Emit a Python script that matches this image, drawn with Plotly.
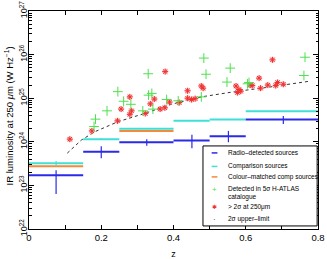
import plotly.graph_objects as go

# ---- data (log10 luminosity in W/Hz) ----
bin_lo = [0.0, 0.15, 0.25, 0.40, 0.50, 0.60]
bin_hi = [0.15, 0.25, 0.40, 0.50, 0.60, 0.80]
radio_logL = [23.23, 23.77, 23.99, 24.03, 24.13, 24.51]
radio_err_z = [0.075, 0.200, 0.326, 0.451, 0.552, 0.704]
radio_err_lo = [22.80, 23.62, 23.91, 23.85, 23.99, 24.41]
radio_err_hi = [23.35, 23.90, 24.06, 24.16, 24.25, 24.59]

comp_logL = [23.51, 24.06, 24.30, 24.48, 24.51, 24.70]
comp_err_z = [0.075, 0.200]
comp_err_lo = [23.45, 24.04]
comp_err_hi = [23.56, 24.08]

colour_lo = [0.0, 0.25]
colour_hi = [0.15, 0.40]
colour_logL = [23.44, 24.25]

det_z = [0.180, 0.184, 0.216, 0.246, 0.262, 0.282, 0.330, 0.331, 0.340, 0.343,
         0.315, 0.381, 0.413, 0.477, 0.484, 0.490, 0.557, 0.548, 0.609, 0.605,
         0.764, 0.761]
det_logL = [24.35, 24.52, 24.71, 25.15, 24.93, 24.86, 25.56, 25.07, 25.11, 24.75,
            24.71, 24.97, 24.94, 25.03, 25.92, 25.55, 25.69, 25.37, 25.36, 25.33,
            25.94, 25.52]

sig_z = [0.113, 0.174, 0.245, 0.255, 0.279, 0.284, 0.279, 0.347, 0.336, 0.322,
         0.363, 0.376, 0.377, 0.389, 0.416, 0.439, 0.439, 0.450, 0.460, 0.477,
         0.482, 0.573, 0.581, 0.586, 0.577, 0.612, 0.618, 0.637, 0.641, 0.661,
         0.674, 0.688, 0.683, 0.704]
sig_logL = [24.06, 24.25, 24.48, 24.75, 25.03, 24.71, 24.63, 24.98, 24.87, 24.65,
            24.75, 24.78, 25.61, 24.91, 24.90, 25.17, 25.00, 24.97, 24.99, 25.28,
            25.23, 25.28, 25.20, 25.16, 25.13, 25.30, 25.29, 25.46, 25.23, 25.30,
            25.88, 25.36, 25.29, 25.32]

lim_z = [0.106, 0.145, 0.182, 0.246, 0.320, 0.394, 0.477, 0.569, 0.661, 0.777]
lim_logL = [23.74, 24.04, 24.23, 24.46, 24.65, 24.86, 25.03, 25.15, 25.25, 25.39]

y_tick_exp = [22, 23, 24, 25, 26, 27]
x_tick_vals = [0, 0.2, 0.4, 0.6, 0.8]
x_tick_text = ["0", "0.2", "0.4", "0.6", "0.8"]

BLUE = "#2a2ae8"
CYAN = "#3fe0d8"
ORANGE = "#f58a3a"
GREEN = "#4ee04e"
RED = "#f03030"


def p(v):
    return 10.0 ** v


def segs(lo, hi, vals):
    xs, ys = [], []
    for a, b, v in zip(lo, hi, vals):
        xs += [a, b, None]
        ys += [p(v), p(v), None]
    return xs, ys


def vsegs(zs, lo, hi):
    xs, ys = [], []
    for z, a, b in zip(zs, lo, hi):
        xs += [z, z, None]
        ys += [p(a), p(b), None]
    return xs, ys


fig = go.Figure()

# horizontal bin bars
for lo, hi, vals, col in [(bin_lo, bin_hi, comp_logL, CYAN),
                          (colour_lo, colour_hi, colour_logL, ORANGE),
                          (bin_lo, bin_hi, radio_logL, BLUE)]:
    xs, ys = segs(lo, hi, vals)
    fig.add_trace(go.Scatter(x=xs, y=ys, mode="lines",
                             line=dict(color=col, width=2), showlegend=False))

xs, ys = vsegs(comp_err_z, comp_err_lo, comp_err_hi)
fig.add_trace(go.Scatter(x=xs, y=ys, mode="lines",
                         line=dict(color=CYAN, width=1.2), showlegend=False))
xs, ys = vsegs(radio_err_z, radio_err_lo, radio_err_hi)
fig.add_trace(go.Scatter(x=xs, y=ys, mode="lines",
                         line=dict(color=BLUE, width=1.2), showlegend=False))

# upper-limit curve
fig.add_trace(go.Scatter(x=lim_z, y=[p(v) for v in lim_logL], mode="lines",
                         line=dict(color="#333333", width=1, dash="dot"),
                         showlegend=False))

# >2 sigma points
fig.add_trace(go.Scatter(x=sig_z, y=[p(v) for v in sig_logL], mode="markers",
                         marker=dict(symbol="circle", size=6,
                                     color="rgba(255,160,160,0.55)",
                                     line=dict(width=0)),
                         showlegend=False))
fig.add_trace(go.Scatter(x=sig_z, y=[p(v) for v in sig_logL], mode="markers",
                         marker=dict(symbol="asterisk-open", size=5, color=RED,
                                     line=dict(color=RED, width=1)),
                         showlegend=False))

# detected points
fig.add_trace(go.Scatter(x=det_z, y=[p(v) for v in det_logL], mode="markers",
                         marker=dict(symbol="cross-thin-open", size=7, color=GREEN,
                                     line=dict(color=GREEN, width=1)),
                         showlegend=False))

# ---- manual legend (paper coordinates of plot area) ----
fig.add_shape(type="rect", xref="paper", yref="paper",
              x0=0.602, x1=0.997, y0=0.014, y1=0.381,
              line=dict(color="black", width=1), fillcolor="white", layer="above")

legend_rows = [
    ("line", BLUE, "Radio\u2013detected sources", 0.349, 0.349),
    ("line", CYAN, "Comparison sources", 0.287, 0.287),
    ("line", ORANGE, "Colour\u2013matched comp sources", 0.239, 0.239),
    ("plus", GREEN, "Detected in 5\u03c3 H-ATLAS<br>catalogue", 0.165, 0.183),
    ("star", RED, "> 2\u03c3 at 250\u03bcm", 0.100, 0.100),
    ("dot", "#333333", "2\u03c3 upper\u2013limit", 0.045, 0.045),
]
for kind, col, text, yy, ysym in legend_rows:
    if kind == "line":
        fig.add_shape(type="line", xref="paper", yref="paper",
                      x0=0.632, x1=0.652, y0=ysym, y1=ysym,
                      line=dict(color=col, width=1.5), layer="above")
    else:
        sym = {"plus": "+", "star": "\u2731", "dot": "\u00b7"}[kind]
        fig.add_annotation(xref="paper", yref="paper", x=0.642, y=ysym,
                           text=sym, showarrow=False,
                           font=dict(color=col, size=8 if kind != "star" else 6),
                           xanchor="center", yanchor="middle")
    fig.add_annotation(xref="paper", yref="paper", x=0.68, y=yy,
                       text=text, showarrow=False, align="left",
                       font=dict(size=6.5, color="black", family="Liberation Sans"),
                       xanchor="left", yanchor="middle")

# y-axis title
fig.add_annotation(xref="paper", yref="paper", x=-0.07, y=0.52,
                   text="IR luminosity at 250 <i>\u03bc</i>m (W Hz<sup>\u22121</sup>)",
                   textangle=-90, showarrow=False, xanchor="center", yanchor="middle",
                   font=dict(size=9.5, color="black", family="Liberation Sans"))

minor_y = [m * 10.0 ** e for e in range(22, 27) for m in range(2, 10)]

fig.update_layout(
    width=327, height=259,
    margin=dict(l=29, r=9, t=11, b=30),
    paper_bgcolor="white", plot_bgcolor="white",
    font=dict(family="Liberation Sans", size=9, color="black"),
    xaxis=dict(range=[0, 0.8], showgrid=False, zeroline=False, automargin=False,
               showline=True, linecolor="black", linewidth=1, mirror="allticks",
               ticks="inside", ticklen=4, tickcolor="black",
               tickvals=x_tick_vals, ticktext=x_tick_text,
               tickfont=dict(size=9.5),
               minor=dict(tickvals=[0.1, 0.3, 0.5, 0.7], ticks="inside",
                          ticklen=4, tickcolor="black", showgrid=False),
               title=dict(text="z", font=dict(size=9), standoff=8)),
    yaxis=dict(type="log", range=[22, 27], showgrid=False, zeroline=False,
               automargin=False,
               showline=True, linecolor="black", linewidth=1, mirror="allticks",
               ticks="inside", ticklen=5, tickcolor="black",
               tickvals=[10.0 ** e for e in y_tick_exp],
               ticktext=["10<sup>%d</sup>" % e for e in y_tick_exp],
               tickangle=-90, tickfont=dict(size=9), ticklabelstandoff=-3,
               minor=dict(tickvals=minor_y, ticks="inside", ticklen=2.5,
                          tickcolor="black", showgrid=False)),
)

# remove the default 8px page margin so the figure fills the window exactly
fig.write_html("out.html", config={"displayModeBar": False},
               post_script="document.body.style.margin='0';")
